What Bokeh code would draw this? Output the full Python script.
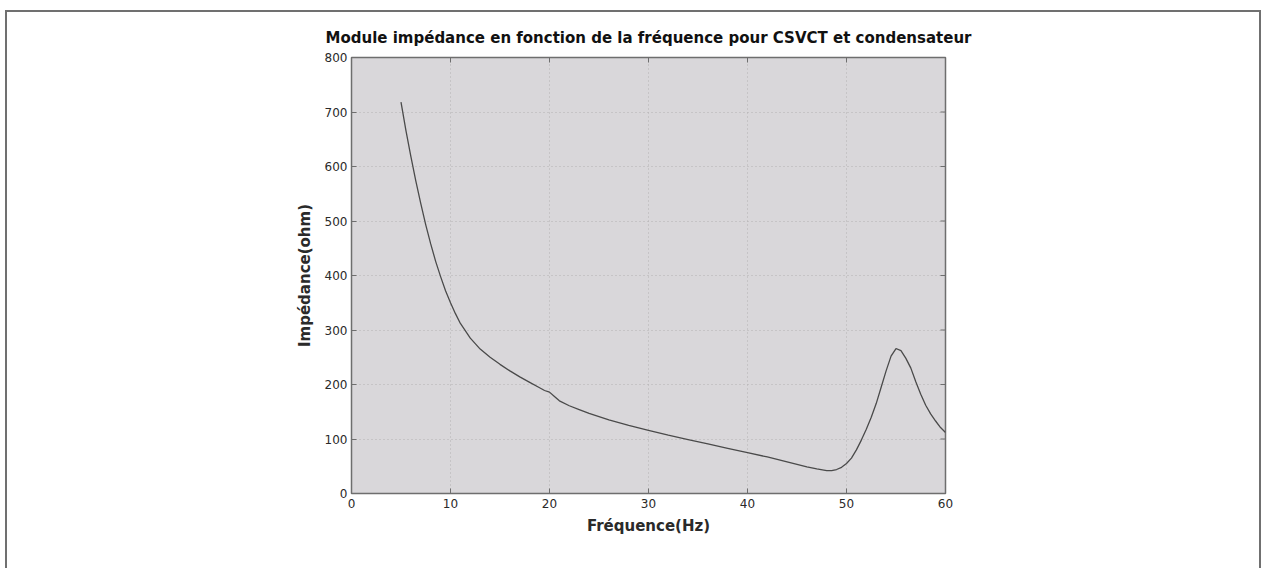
from bokeh.plotting import figure
from bokeh.models import Title, Range1d, FixedTicker
from bokeh.embed import file_html
from bokeh.resources import INLINE

freq = [5, 5.5, 6, 6.5, 7, 7.5, 8, 8.5, 9, 9.5, 10, 10.5, 11, 12, 13, 14, 15, 16, 17, 18,
        19, 19.5, 20, 20.5, 21, 22, 23, 24, 26, 28, 30, 32, 34, 36, 38, 40, 42, 44, 46, 47,
        48, 48.5, 49, 49.5, 50, 50.5, 51, 51.5, 52, 52.5, 53, 53.5, 54, 54.5, 55, 55.5,
        56, 56.5, 57, 57.5, 58, 58.5, 59, 59.5, 60]
impedance = [718, 666, 618, 573, 532, 493, 458, 426, 398, 372, 350, 330, 312, 285, 265,
             250, 237, 225, 214, 204, 194, 189, 186, 178, 170, 161, 154, 147, 135, 125,
             116, 107, 99, 91, 83, 75, 67, 58, 49, 45, 42, 42, 44, 48, 55, 65, 80, 98, 118,
             140, 165, 195, 225, 252, 266, 262, 248, 230, 205, 182, 162, 146, 133, 121, 112]
x_ticks = [0, 10, 20, 30, 40, 50, 60]
y_ticks = [0, 100, 200, 300, 400, 500, 600, 700, 800]

FONT = "DejaVu Sans"
AX = "#6e6e6e"
TXT = "#2a2a2a"
BORDER = "2px solid #707070"

X0, X1, Y0, Y1 = 0, 60, 0, 800
ML, MR, MT, MB = 344, 318, 45, 77
W, H = 1256, 558

p = figure(width=W, height=H, output_backend="svg", toolbar_location=None,
           x_range=Range1d(X0, X1), y_range=Range1d(Y0, Y1),
           min_border_left=ML, min_border_right=MR, min_border_top=MT,
           min_border_bottom=MB)
p.styles = {"margin-left": "5px", "margin-top": "10px",
            "border-left": BORDER, "border-right": BORDER, "border-top": BORDER}
p.background_fill_color = "#d9d7da"
p.border_fill_color = "white"
p.outline_line_color = AX
p.outline_line_width = 1.5

# box ticks on top and right edges (MATLAB "box on"), 5px long, from the tick lists
tick_px = 5
dy = tick_px * (Y1 - Y0) / (H - MT - MB)
dx = tick_px * (X1 - X0) / (W - ML - MR)
p.segment(x0=x_ticks, y0=[Y1] * len(x_ticks), x1=x_ticks, y1=[Y1 - dy] * len(x_ticks),
          line_color=AX, line_width=1)
p.segment(x0=[X1] * len(y_ticks), y0=y_ticks, x1=[X1 - dx] * len(y_ticks), y1=y_ticks,
          line_color=AX, line_width=1)

p.line(freq, impedance, line_color="#4a4a4a", line_width=1.3)

for ax in (p.xaxis[0], p.yaxis[0]):
    ax.major_tick_in = 5
    ax.major_tick_out = 0
    ax.minor_tick_line_color = None
    ax.axis_line_color = AX
    ax.major_tick_line_color = AX
    ax.major_label_text_font = FONT
    ax.major_label_text_font_size = "12px"
    ax.major_label_text_color = TXT
    ax.axis_label_text_font = FONT
    ax.axis_label_text_font_style = "bold"
    ax.axis_label_text_color = TXT

p.xaxis[0].ticker = FixedTicker(ticks=x_ticks)
p.yaxis[0].ticker = FixedTicker(ticks=y_ticks)
p.xaxis[0].axis_label = "Fréquence(Hz)"
p.yaxis[0].axis_label = "Impédance(ohm)"
p.xaxis[0].axis_label_text_font_size = "15px"
p.yaxis[0].axis_label_text_font_size = "15px"
p.xaxis[0].major_label_standoff = 5
p.yaxis[0].major_label_standoff = 4
p.xaxis[0].axis_label_standoff = 6
p.yaxis[0].axis_label_standoff = 8

p.xgrid.ticker = FixedTicker(ticks=x_ticks)
p.ygrid.ticker = FixedTicker(ticks=y_ticks)
p.grid.grid_line_color = "#b2b0b3"
p.grid.grid_line_dash = "1 3"
p.grid.grid_line_width = 1

p.add_layout(Title(text="Module impédance en fonction de la fréquence pour CSVCT et condensateur",
                   align="center", text_font=FONT, text_font_size="15px",
                   text_font_style="bold", text_color="#111111", standoff=22), "above")

open("out.html", "w").write(file_html(p, INLINE))
